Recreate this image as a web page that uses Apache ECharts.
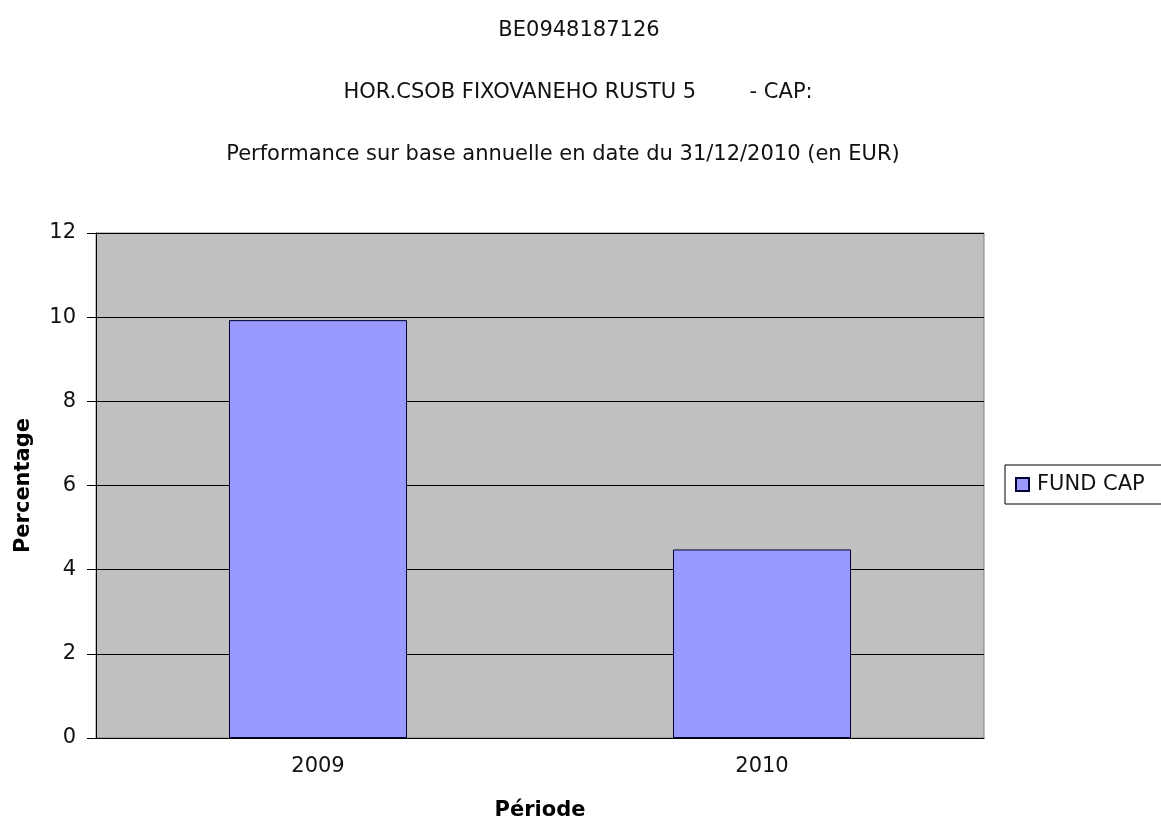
<!DOCTYPE html>
<html><head><meta charset="utf-8">
<script src="https://cdn.jsdelivr.net/npm/echarts@6/dist/echarts.min.js"></script>
<style>html,body{margin:0;padding:0;background:#fff}#c{width:1161px;height:820px}</style>
</head><body><div id="c"></div>
<script>
const categories = ['2009', '2010'];
const fundCap = [9.93, 4.48];
const seriesName = 'FUND CAP';
const titleLines = ['BE0948187126', 'HOR.CSOB FIXOVANEHO RUSTU 5        - CAP:', 'Performance sur base annuelle en date du 31/12/2010 (en EUR)'];

const font = 'DejaVu Sans, Verdana, sans-serif';
const fs = 21;
const chart = echarts.init(document.getElementById('c'));
chart.setOption({
  animation: false,
  backgroundColor: '#fff',
  title: [
    {text: titleLines[0], left: 574, top: 15, textAlign: 'center', textStyle: {fontFamily: font, fontSize: fs, fontWeight: 'normal', color: '#111'}},
    {text: titleLines[1], left: 573, top: 77, textAlign: 'center', textStyle: {fontFamily: font, fontSize: fs, fontWeight: 'normal', color: '#111'}},
    {text: titleLines[2], left: 558, top: 139, textAlign: 'center', textStyle: {fontFamily: font, fontSize: fs, fontWeight: 'normal', color: '#111'}}
  ],
  grid: {left: 96, right: 177, top: 233, bottom: 82, outerBoundsMode: 'none', containLabel: false, show: true, backgroundColor: '#c0c0c0', borderColor: '#808080', borderWidth: 1},
  legend: {
    data: [seriesName], left: 1005, top: 465, orient: 'vertical',
    backgroundColor: '#fff', borderColor: '#000', borderWidth: 1,
    padding: [9, 60, 9, 10], itemWidth: 13, itemHeight: 13, itemGap: 6, icon: 'rect',
    textStyle: {fontFamily: font, fontSize: fs, color: '#111', padding: [0, 0, 0, 3]}
  },
  xAxis: {
    type: 'category', data: categories,
    name: 'Période', nameLocation: 'middle', nameGap: 62,
    nameTextStyle: {fontFamily: font, fontSize: fs, fontWeight: 'bold', color: '#000'},
    axisLine: {lineStyle: {color: '#000', width: 1}},
    axisTick: {show: false},
    axisLabel: {fontFamily: font, fontSize: fs, color: '#111', margin: 18}
  },
  yAxis: {
    type: 'value', min: 0, max: 12, interval: 2,
    name: 'Percentage', nameLocation: 'middle', nameGap: 62,
    nameTextStyle: {fontFamily: font, fontSize: fs, fontWeight: 'bold', color: '#000'},
    axisLine: {show: true, lineStyle: {color: '#000', width: 1}},
    axisTick: {show: true, length: 9, lineStyle: {color: '#000'}},
    axisLabel: {fontFamily: font, fontSize: fs, color: '#111', margin: 20},
    splitLine: {show: true, lineStyle: {color: '#000', width: 1}}
  },
  series: [{
    name: seriesName, type: 'bar', data: fundCap, barWidth: 178,
    itemStyle: {color: '#9999ff', borderColor: '#000033', borderWidth: 1}
  }]
});
</script></body></html>
